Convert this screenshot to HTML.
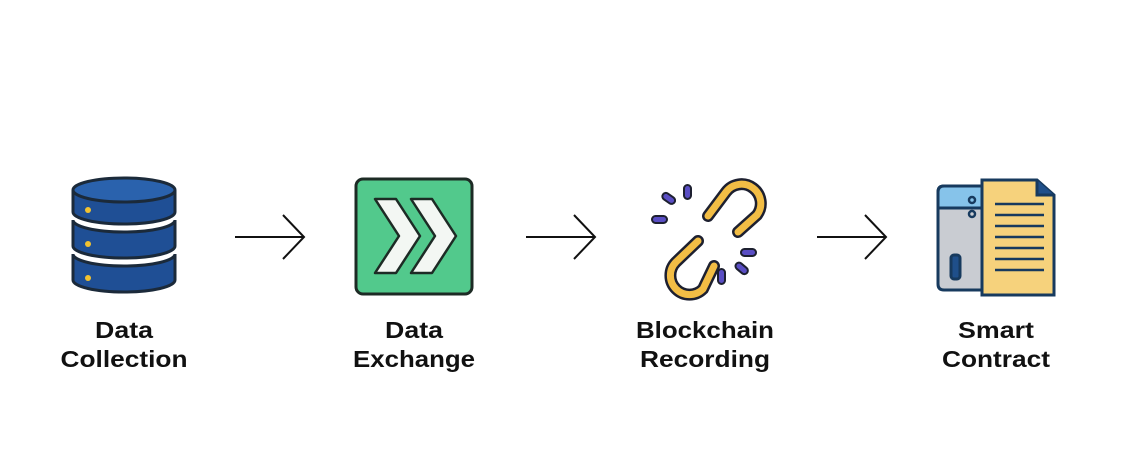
<!DOCTYPE html>
<html><head><meta charset="utf-8"><style>
html,body{margin:0;padding:0;background:#fff;width:1134px;height:466px;overflow:hidden}
text{font-family:"Liberation Sans",sans-serif;font-size:23px;font-weight:bold;fill:#111;text-anchor:middle}
</style></head><body>
<svg width="1134" height="466" viewBox="0 0 1134 466" xmlns="http://www.w3.org/2000/svg">
<!-- Database -->
<g stroke="#1b2a3a" stroke-width="3" fill="#1f4f95">
  <path d="M73 254 v26 a51 12 0 0 0 102 0 v-26 a51 12 0 0 1 -102 0z"/>
  <path d="M73 220 v26 a51 12 0 0 0 102 0 v-26 a51 12 0 0 1 -102 0z"/>
  <path d="M73 190 v22 a51 12 0 0 0 102 0 v-22"/>
  <ellipse cx="124" cy="190" rx="51" ry="12" fill="#2a62ad"/>
</g>
<g fill="#f2c230"><circle cx="88" cy="210" r="3"/><circle cx="88" cy="244" r="3"/><circle cx="88" cy="278" r="3"/></g>
<!-- Exchange -->
<rect x="356" y="179" width="116" height="115" rx="7" fill="#52c98c" stroke="#1d2b25" stroke-width="3"/>
<g fill="#f3f7f3" stroke="#1d2b25" stroke-width="2.5" stroke-linejoin="round">
  <path d="M375 199 h21 l24 37 l-24 37 h-21 l24 -37z"/>
  <path d="M411 199 h21 l24 37 l-24 37 h-21 l24 -37z"/>
</g>
<!-- Chain -->
<g fill="none" stroke-linecap="round">
  <path d="M708 216 L726 192 a19 19 0 0 1 31 23 L738 232" stroke="#1d2030" stroke-width="12"/>
  <path d="M708 216 L726 192 a19 19 0 0 1 31 23 L738 232" stroke="#f2bd45" stroke-width="7"/>
  <path d="M698 241 L676 262 a19 19 0 0 0 27 27 L714 266" stroke="#1d2030" stroke-width="12"/>
  <path d="M698 241 L676 262 a19 19 0 0 0 27 27 L714 266" stroke="#f2bd45" stroke-width="7"/>
</g>
<g stroke="#1d2030" stroke-width="2" fill="#5a4ec4">
  <rect x="684" y="185" width="7" height="14" rx="3.5"/>
  <rect x="662" y="195" width="14" height="7" rx="3.5" transform="rotate(35 669 198)"/>
  <rect x="652" y="216" width="15" height="7" rx="3.5"/>
  <rect x="741" y="249" width="15" height="7" rx="3.5"/>
  <rect x="735" y="265" width="14" height="7" rx="3.5" transform="rotate(40 742 268)"/>
  <rect x="718" y="269" width="7" height="15" rx="3.5"/>
</g>
<!-- Contract -->
<g stroke="#173a5e" stroke-width="3">
  <path d="M938 192 q0 -6 6 -6 h42 v104 h-42 q-6 0 -6 -6z" fill="#c9ccd2"/>
  <path d="M938 192 q0 -6 6 -6 h42 v22 h-48z" fill="#86c3ea"/>
  <rect x="951" y="255" width="9" height="24" rx="3" fill="#1f4f8a"/>
  <path d="M982 180 h55 l17 15 v100 h-72z" fill="#f6d27c"/>
  <path d="M1037 180 v15 h17" fill="#1f4f8a"/>
</g>
<g stroke="#173a5e" stroke-width="2.5"><circle cx="972" cy="200" r="3" fill="none"/><circle cx="972" cy="214" r="3" fill="none"/></g>
<g stroke="#173a5e" stroke-width="2.5">
  <line x1="995" y1="204" x2="1044" y2="204"/><line x1="995" y1="215" x2="1044" y2="215"/>
  <line x1="995" y1="226" x2="1044" y2="226"/><line x1="995" y1="237" x2="1044" y2="237"/>
  <line x1="995" y1="248" x2="1044" y2="248"/><line x1="995" y1="259" x2="1044" y2="259"/>
  <line x1="995" y1="270" x2="1044" y2="270"/>
</g>
<!-- Arrows -->
<g stroke="#111" stroke-width="2" fill="none">
  <path d="M235 237 H303 M283 215 L304 237 L283 259"/>
  <path d="M526 237 H594 M574 215 L595 237 L574 259"/>
  <path d="M817 237 H885 M865 215 L886 237 L865 259"/>
</g>
<!-- Labels -->
<text x="124" y="338" textLength="58" lengthAdjust="spacingAndGlyphs">Data</text>
<text x="124" y="367" textLength="127" lengthAdjust="spacingAndGlyphs">Collection</text>
<text x="414" y="338" textLength="58" lengthAdjust="spacingAndGlyphs">Data</text>
<text x="414" y="367" textLength="122" lengthAdjust="spacingAndGlyphs">Exchange</text>
<text x="705" y="338" textLength="138" lengthAdjust="spacingAndGlyphs">Blockchain</text>
<text x="705" y="367" textLength="130" lengthAdjust="spacingAndGlyphs">Recording</text>
<text x="996" y="338" textLength="76" lengthAdjust="spacingAndGlyphs">Smart</text>
<text x="996" y="367" textLength="108" lengthAdjust="spacingAndGlyphs">Contract</text>
</svg>
</body></html>
